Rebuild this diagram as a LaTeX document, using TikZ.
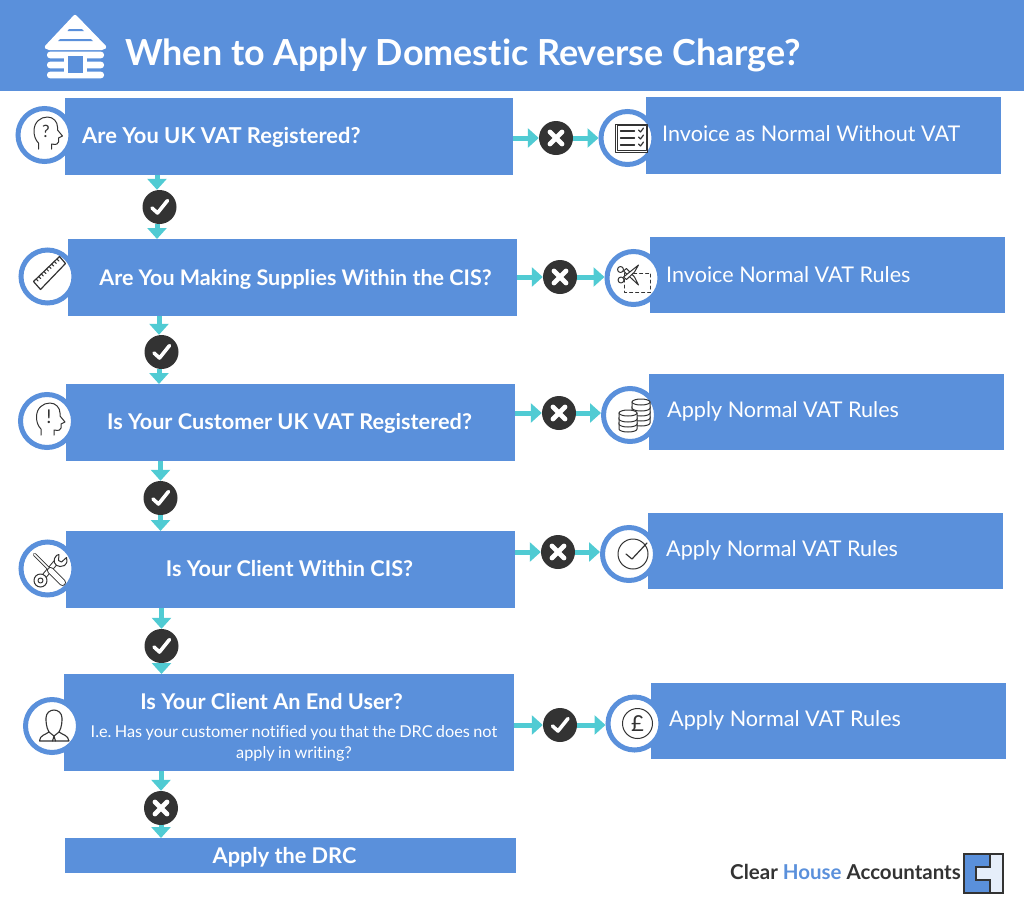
\documentclass[tikz,border=0pt]{standalone}
\usepackage{fontspec}
\setmainfont{Lato}[Ligatures=CommonOff]
\newfontfamily\subfont{Lato}[Ligatures=CommonOff,WordSpace=0.8]
\usetikzlibrary{arrows.meta,positioning}
\definecolor{boxblue}{HTML}{5A90DB}
\definecolor{flowteal}{HTML}{50CBD3}
\definecolor{darkdot}{HTML}{333333}
\newcommand{\tickmark}{\draw[white,line width=3.6,line cap=round,line join=round] ([shift={(-7.5,1)}]path picture bounding box.center) -- ([shift={(-2,6)}]path picture bounding box.center) -- ([shift={(8,-6.5)}]path picture bounding box.center);}
\newcommand{\crossmark}{\draw[white,line width=4.8,line cap=round] ([shift={(-6,-6)}]path picture bounding box.center) -- ([shift={(6,6)}]path picture bounding box.center) ([shift={(-6,6)}]path picture bounding box.center) -- ([shift={(6,-6)}]path picture bounding box.center);}
\tikzset{
  box/.style={fill=boxblue,inner sep=0pt,minimum height=77,anchor=north west},
  ask/.style={box,minimum width=449},
  answer/.style={box,minimum width=355},
  asktext/.style={text=white,inner sep=0pt,anchor=base,font=\fontsize{21.7}{25}\selectfont\bfseries},
  answertext/.style={text=white,inner sep=0pt,anchor=base west,font=\fontsize{21.6}{25}\selectfont},
  icon/.style={circle,draw=boxblue,fill=white,line width=5,minimum size=53,inner sep=0pt,outer sep=2.5},
  yes/.style={circle,fill=darkdot,minimum size=34,inner sep=0pt,path picture={\tickmark}},
  no/.style={circle,fill=darkdot,minimum size=34,inner sep=0pt,path picture={\crossmark}},
  flow/.style={flowteal,line width=5,-{Triangle[width=19,length=11]}},
  ink/.style={darkdot,line width=1,line join=round,line cap=round},
  headicon/.pic={
    \draw[ink] (-6,14) -- (-6,8) .. controls (-9,5) and (-10.5,1) .. (-10.5,-4) .. controls (-10.5,-13) and (-4,-18) .. (3,-18) .. controls (9,-18) and (13,-13) .. (13,-8) -- (13,-5) -- (18,1) -- (14,3) -- (14,7) .. controls (14,9) and (12,10) .. (7,9) -- (7,14);
  }
}
\begin{document}
\begin{tikzpicture}[x=1pt,y=-1pt]
  \useasboundingbox (0,0) rectangle (1024,921);
  % header
  \node[fill=boxblue,minimum width=1024,minimum height=91,anchor=north west,inner sep=0pt] (Head) at (0,0) {};
  \node[text=white,inner sep=0pt,font=\fontsize{35.9}{40}\selectfont\bfseries,anchor=base west] (Title) at (125,65) {When to Apply Domestic Reverse Charge?};
  \fill[white,rounded corners=2] (44,47) -- (75,14) -- (107,47) -- (104,50) -- (47,50) -- cycle;
  \fill[boxblue] (69,29) -- (82,29) -- (84,31) -- (67.5,31) -- cycle (60,39) -- (91,39) -- (93,41) -- (58,41) -- cycle;
  \fill[white,rounded corners=3] (47,51.7) rectangle (104,58.3) (47,61.7) rectangle (68,68.3) (83,61.7) rectangle (104,68.3) (47,71.7) rectangle (104,78.3);
  \fill[white] (64,54) rectangle (87,76);
  \fill[boxblue] (68.3,56) rectangle (83.3,73.3);
  % questions
  \node[ask,minimum width=448] (Q1) at (65,98) {};
  \node[ask] (Q2) at (68,239) {};
  \node[ask] (Q3) at (66,384) {};
  \node[ask] (Q4) at (66,531) {};
  \node[ask,minimum width=450,minimum height=97] (Q5) at (64,674) {};
  \node[ask,minimum width=451,minimum height=35] (Q6) at (65,838) {};
  \node[asktext,anchor=base west,font=\fontsize{21.9}{25}\selectfont\bfseries] (Q1text) at (82,143.5) {Are You UK VAT Registered?};
  \node[asktext,font=\fontsize{21.5}{25}\selectfont\bfseries] (Q2text) at (295.5,285) {Are You Making Supplies Within the CIS?};
  \node[asktext] (Q3text) at (289.5,429) {Is Your Customer UK VAT Registered?};
  \node[asktext] (Q4text) at (289.5,576) {Is Your Client Within CIS?};
  \node[asktext] (Q5text) at (271.5,709.5) {Is Your Client An End User?};
  \node[text=white,inner sep=0pt,font=\fontsize{16.3}{20.5}\subfont\frenchspacing,align=center] (Q5sub) at (294,743.5) {I.e. Has your customer notified you that the DRC does not\\apply in writing?};
  \node[asktext] (Q6text) at (284.5,863.5) {Apply the DRC};
  % answers
  \node[answer] (A1) at (646,97) {};
  \node[answer,minimum height=76] (A2) at (650,237) {};
  \node[answer,minimum height=76] (A3) at (649,374) {};
  \node[answer,minimum height=76] (A4) at (648,513) {};
  \node[answer,minimum height=76] (A5) at (651,683) {};
  \node[answertext] (A1text) at (662,141) {Invoice as Normal Without VAT};
  \node[answertext] (A2text) at (666,282.5) {Invoice Normal VAT Rules};
  \node[answertext] (A3text) at (667,417.5) {Apply Normal VAT Rules};
  \node[answertext] (A4text) at (666,556.5) {Apply Normal VAT Rules};
  \node[answertext] (A5text) at (669,726.5) {Apply Normal VAT Rules};
  % icon circles
  \node[icon] (I1) at (44.5,135) {};
  \node[icon] (I2) at (47.5,276.5) {};
  \node[icon] (I3) at (47,421) {};
  \node[icon] (I4) at (47.5,568.5) {};
  \node[icon] (I5) at (52,726) {};
  \node[icon] (J1) at (627.5,138) {};
  \node[icon] (J2) at (633.5,278) {};
  \node[icon] (J3) at (630,415) {};
  \node[icon] (J4) at (629,554) {};
  \node[icon] (J5) at (634.5,723.5) {};
  % answer dots
  \node[no] (N1) at (556,138) {};
  \node[no] (N2) at (560,277) {};
  \node[no] (N3) at (559,413) {};
  \node[no] (N4) at (558,552) {};
  \node[yes] (N5) at (560,725) {};
  \node[yes] (D1) at (159.5,207) {};
  \node[yes] (D2) at (161.5,352) {};
  \node[yes] (D3) at (160.5,498) {};
  \node[yes] (D4) at (161.5,646) {};
  \node[no] (D5) at (161,808) {};
  % arrows
  \draw[flow] (Q1.east |- N1) -- (N1.west);
  \draw[flow] (N1.east) -- (N1.east -| J1.west);
  \draw[flow] (Q2.east |- N2) -- (N2.west);
  \draw[flow] (N2.east) -- (N2.east -| J2.west);
  \draw[flow] (Q3.east |- N3) -- (N3.west);
  \draw[flow] (N3.east) -- (N3.east -| J3.west);
  \draw[flow] (Q4.east |- N4) -- (N4.west);
  \draw[flow] (N4.east) -- (N4.east -| J4.west);
  \draw[flow] (Q5.east |- N5) -- (N5.west);
  \draw[flow] (N5.east) -- (N5.east -| J5.west);
  \draw[flow] ([xshift=-2.5]Q1.south -| D1) -- ([xshift=-2.5]D1.north);
  \draw[flow] ([xshift=-2.5]D1.south) -- ([xshift=-2.5]D1.south |- Q2.north);
  \draw[flow] ([xshift=-2.5]Q2.south -| D2) -- ([xshift=-2.5]D2.north);
  \draw[flow] ([xshift=-2.5]D2.south) -- ([xshift=-2.5]D2.south |- Q3.north);
  \draw[flow] (Q3.south -| D3) -- (D3.north);
  \draw[flow] (D3.south) -- (D3.south |- Q4.north);
  \draw[flow] (Q4.south -| D4) -- (D4.north);
  \draw[flow] (D4.south) -- (D4.south |- Q5.north);
  \draw[flow] (Q5.south -| D5) -- (D5.north);
  \draw[flow] (D5.south) -- (D5.south |- Q6.north);
  % icons on the left
  \pic at (I1) {headicon};
  \node[text=darkdot,font=\fontsize{17}{20}\selectfont,inner sep=0pt] (I1mark) at ([shift={(1.5,-3.5)}]I1) {?};
  \begin{scope}[shift={(I2)}]
    \draw[ink,line width=1.2,fill=white] (-14,5) -- (12,-20) -- (18,-13) -- (-7,13) -- cycle;
    \foreach \t in {1,...,9} \draw[ink] (-14+2.6*\t,5-2.5*\t) -- ++(2,2);
  \end{scope}
  \pic at (I3) {headicon};
  \node[text=darkdot,font=\fontsize{19}{20}\selectfont,inner sep=0pt] (I3mark) at ([shift={(2,-4.5)}]I3) {!};
  \begin{scope}[shift={(I4)}]
    \draw[ink,double=white,double distance=3.5] (-7,12) -- (9,-7);
    \draw[ink,fill=white] (-7,12) circle (6.5);
    \draw[ink,fill=white] (-7,12) circle (2.5);
    \draw[ink,fill=white] (7,-10) .. controls (5,-4) and (11,0) .. (17,-3) .. controls (20,-6) and (20,-8) .. (19,-11) -- (14,-6.5) -- (11,-8) -- (11.5,-14) .. controls (10,-14) and (8,-13) .. (7,-10) -- cycle;
    \draw[ink,double=white,double distance=1.5] (-13,-14) -- (3,2);
    \draw[ink,double=white,double distance=5] (3,2) -- (15,14);
  \end{scope}
  \begin{scope}[shift={(I5)}]
    \draw[ink,line width=1.1] (-12.5,15) .. controls (-12,9) and (-7,9) .. (-3,6) .. controls (-6,1) and (-6,-5) .. (-6,-8) .. controls (-6,-13) and (-2,-16) .. (2,-16) .. controls (6,-16) and (10,-13) .. (10,-8) .. controls (10,-5) and (10,1) .. (7,6) .. controls (11,9) and (16,9) .. (17,15) -- cycle;
    \draw[ink,line width=1.1] (-3,6) -- (2,10) -- (7,6) (2,10) -- (0.5,15) (2,10) -- (3.5,15);
  \end{scope}
  % icons on the right
  \begin{scope}[shift={(J1)}]
    \draw[ink] (-12,-14) rectangle (20,14) (-10.5,-12.5) rectangle (18.5,12.5);
    \foreach \y in {-7,0,7} {
      \draw[ink,line width=1.3] (-7,\y) -- (7,\y);
      \draw[ink,line width=1.2] (11,\y-1) -- (13,\y+1) -- (16,\y-3);
    }
  \end{scope}
  \begin{scope}[shift={(J2)}]
    \draw[ink,dashed] (-9,-5) rectangle (17,14);
    \draw[ink,fill=white] (-10,-7) -- (5,7) -- (1,-1) -- (-7,-9.5) -- cycle;
    \draw[ink,fill=white] (-10,-1) -- (5,-13) -- (1,-6) -- (-7,1.5) -- cycle;
    \draw[ink,fill=white] (-13,-8.5) circle (3) (-12.5,2) circle (3);
  \end{scope}
  \begin{scope}[shift={(J3)}]
    \foreach \y in {8,3,-2,-7} {
      \draw[ink,fill=white] (2,\y-6) -- (2,\y) arc[start angle=180,end angle=360,x radius=9,y radius=-3] -- (20,\y-6) -- cycle;
      \draw[ink,fill=white] (11,\y-6) ellipse (9 and 3);
    }
    \foreach \y in {14,9,4} {
      \draw[ink,fill=white] (-11,\y-6) -- (-11,\y) arc[start angle=180,end angle=360,x radius=9,y radius=-3] -- (7,\y-6) -- cycle;
      \draw[ink,fill=white] (-2,\y-6) ellipse (9 and 3);
    }
  \end{scope}
  \begin{scope}[shift={(J4)}]
    \draw[ink] (4,0) circle (15);
    \draw[ink,line width=1.2] (-3,0) -- (3,5) -- (18,-11);
  \end{scope}
  \begin{scope}[shift={(J5)}]
    \draw[ink] (3,0) circle (15);
  \end{scope}
  \node[text=darkdot,font=\fontsize{22}{24}\selectfont,inner sep=0pt] (J5mark) at ([xshift=3]J5) {£};
  % logo
  \node[text=darkdot,inner sep=0pt,font=\fontsize{20.5}{25}\selectfont\bfseries,anchor=base east] (Logo) at (961,879) {Clear \textcolor{boxblue}{House} Accountants};
  \fill[boxblue!15] (964,854) rectangle (1003,893);
  \fill[boxblue] (964,854) -- (990,854) -- (990,867) -- (976,867) -- (976,880) -- (990,880) -- (990,893) -- (964,893) -- cycle;
  \draw[darkdot,line width=2.4] (964,854) rectangle (1003,893) (990,854) -- (990,867) -- (976,867) -- (976,880) -- (990,880) -- (990,893);
\end{tikzpicture}
\end{document}
